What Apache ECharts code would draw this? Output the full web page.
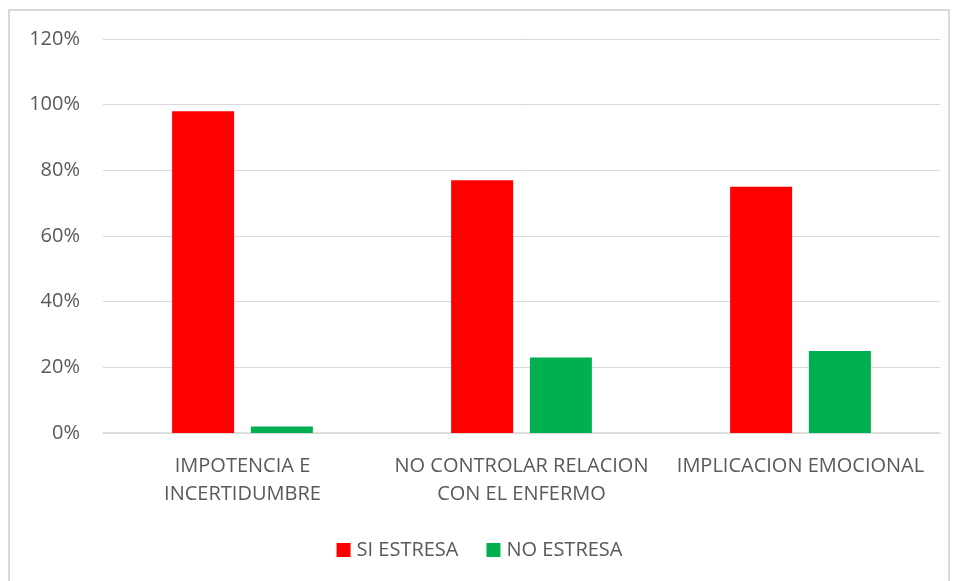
<!DOCTYPE html>
<html>
<head>
<meta charset="utf-8">
<script src="https://cdn.jsdelivr.net/npm/echarts@6/dist/echarts.min.js"></script>
<style>
html,body{margin:0;padding:0;background:#fff;}
#main{width:959px;height:581px;}
</style>
</head>
<body>
<div id="main"></div>
<script>
var categories = ['IMPOTENCIA E\nINCERTIDUMBRE', 'NO CONTROLAR RELACION\nCON EL ENFERMO', 'IMPLICACION EMOCIONAL'];
var siEstresa = [98, 77, 75];
var noEstresa = [2, 23, 25];
var yTicks = [0, 20, 40, 60, 80, 100, 120];

var txt = '#595959';
var chart = echarts.init(document.getElementById('main'));
var option = {
	animation: false,
	textStyle: { fontFamily: 'Open Sans', color: txt },
	graphic: [{
		type: 'rect',
		shape: { x: 9, y: 10, width: 940, height: 600 },
		style: { fill: 'none', stroke: '#d9d9d9', lineWidth: 2 },
		silent: true
	}],
	grid: { left: 103, right: 19, top: 39, bottom: 148, containLabel: false },
	legend: {
		data: ['SI ESTRESA', 'NO ESTRESA'],
		top: 535,
		left: 'center',
		itemWidth: 14,
		itemHeight: 14,
		itemGap: 28,
		icon: 'rect',
		textStyle: { fontSize: 20, color: txt, fontFamily: 'Open Sans', padding: [0, 0, 0, 1] }
	},
	xAxis: {
		type: 'category',
		data: categories,
		axisLine: { lineStyle: { color: '#d9d9d9', width: 1.5 } },
		axisTick: { show: false },
		axisLabel: { color: txt, fontSize: 20, lineHeight: 28, margin: 19, interval: 0 }
	},
	yAxis: {
		type: 'value',
		min: yTicks[0],
		max: yTicks[yTicks.length - 1],
		interval: 20,
		axisLine: { show: false },
		axisTick: { show: false },
		axisLabel: { color: txt, fontSize: 20, margin: 23, formatter: '{value}%' },
		splitLine: { lineStyle: { color: '#d9d9d9', width: 1 } }
	},
	series: [
		{ name: 'SI ESTRESA', type: 'bar', data: siEstresa, barWidth: 62, barGap: '27%', itemStyle: { color: '#ff0000' } },
		{ name: 'NO ESTRESA', type: 'bar', data: noEstresa, barWidth: 62, itemStyle: { color: '#00b050' } }
	]
};
chart.setOption(option);
</script>
</body>
</html>
